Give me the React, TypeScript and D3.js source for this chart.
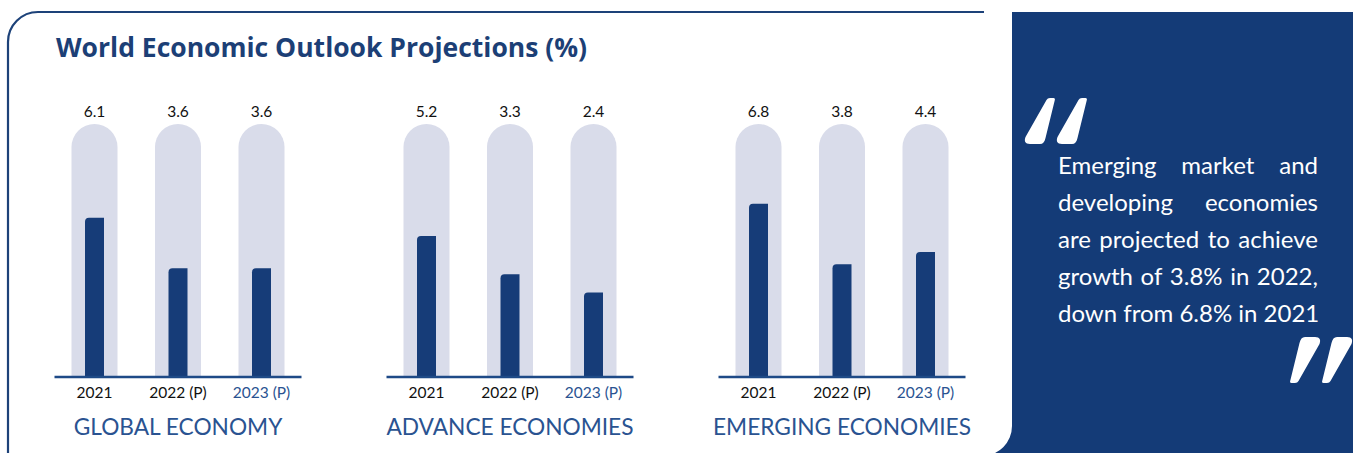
import React, { useEffect, useRef } from "react";
import * as d3 from "d3";

const titleText = "World Economic Outlook Projections (%)";
const groupNames = ["GLOBAL ECONOMY", "ADVANCE ECONOMIES", "EMERGING ECONOMIES"];
const yearLabels = ["2021", "2022 (P)", "2023 (P)"];
const globalEconomy = [6.1, 3.6, 3.6];
const advanceEconomies = [5.2, 3.3, 2.4];
const emergingEconomies = [6.8, 3.8, 4.4];
const quoteLines = [
  "Emerging market and",
  "developing economies",
  "are projected to achieve",
  "growth of 3.8% in 2022,",
  "down from 6.8% in 2021",
];

const W = 1353;
const H = 453;
const FONT = "Lato, 'Open Sans', sans-serif";
const TITLE_FONT = "'Open Sans', Lato, sans-serif";

export default function App() {
  const ref = useRef<SVGSVGElement>(null);

  useEffect(() => {
    const svg = d3.select(ref.current);
    svg.selectAll("*").remove();

    const navy = "#143b77";
    const barColor = "#163c78";
    const track = "#d9dcea";
    const midBlue = "#2a5391";
    const axisColor = "#1e4a87";

    // right panel
    svg.append("rect").attr("x", 982).attr("y", 12).attr("width", W - 982).attr("height", H - 12).attr("fill", navy);

    // card
    svg.append("path")
      .attr("d", "M8 460 L8 42 A30 30 0 0 1 38 12 L1012 12 L1012 426 A30 30 0 0 1 982 456 L8 456 Z")
      .attr("fill", "#ffffff");
    svg.append("path")
      .attr("d", "M8 460 L8 42 A30 30 0 0 1 38 12 L984 12")
      .attr("fill", "none").attr("stroke", "#1d4279").attr("stroke-width", 2.2);

    // title
    svg.append("text").attr("x", 56).attr("y", 57)
      .attr("font-family", TITLE_FONT).attr("font-weight", 700).attr("font-size", 26.5)
      .attr("fill", "#1c3f76").text(titleText);

    const series = [globalEconomy, advanceEconomies, emergingEconomies];
    const outer = d3.scalePoint<string>().domain(groupNames).range([178, 842]);
    const inner = d3.scalePoint<string>().domain(yearLabels).range([-83.5, 83.5]);
    const axisY = 377;
    const trackTop = 124;
    const y = d3.scaleLinear().domain([0, 8]).range([axisY - 36, axisY - 36 - 20.2 * 8]);
    const tw = 23;
    const bw = 9.5;

    groupNames.forEach((gName, gi) => {
      const gx = outer(gName)!;
      const g = svg.append("g");
      yearLabels.forEach((yl, i) => {
        const cx = gx + inner(yl)!;
        const v = series[gi][i];
        g.append("path")
          .attr("d", `M${cx - tw} ${axisY} L${cx - tw} ${trackTop + tw} A${tw} ${tw} 0 0 1 ${cx + tw} ${trackTop + tw} L${cx + tw} ${axisY} Z`)
          .attr("fill", track);
        const top = y(v);
        const r = 4;
        g.append("path")
          .attr("d", `M${cx - bw} ${axisY} L${cx - bw} ${top + r} Q${cx - bw} ${top} ${cx - bw + r} ${top} L${cx + bw} ${top} L${cx + bw} ${axisY} Z`)
          .attr("fill", barColor);
        g.append("text").attr("x", cx).attr("y", 117).attr("text-anchor", "middle")
          .attr("font-family", FONT).attr("font-size", 15.5).attr("fill", "#111")
          .text(v.toFixed(1));
        g.append("text").attr("x", cx).attr("y", 398).attr("text-anchor", "middle")
          .attr("font-family", FONT).attr("font-size", 15.5)
          .attr("fill", i === 2 ? midBlue : "#111")
          .text(yl);
      });
      g.append("line").attr("x1", gx - 123.5).attr("x2", gx + 123.5)
        .attr("y1", axisY).attr("y2", axisY)
        .attr("stroke", axisColor).attr("stroke-width", 2.5);
      g.append("text").attr("x", gx).attr("y", 435).attr("text-anchor", "middle")
        .attr("font-family", FONT).attr("font-size", 22.7).attr("fill", midBlue)
        .text(gName);
    });

    // quote text, justified
    const qx0 = 1058;
    const qx1 = 1318;
    quoteLines.forEach((line, li) => {
      const by = 173.5 + li * 37.1;
      const words = line.split(" ");
      const last = li === quoteLines.length - 1;
      if (last) {
        svg.append("text").attr("x", qx0).attr("y", by)
          .attr("font-family", FONT).attr("font-size", 24).attr("fill", "#fff").text(line);
        return;
      }
      const nodes = words.map((w) =>
        svg.append("text").attr("y", by)
          .attr("font-family", FONT).attr("font-size", 24).attr("fill", "#fff").text(w)
      );
      const widths = nodes.map((n) => (n.node() as SVGTextElement).getComputedTextLength());
      const total = d3.sum(widths);
      const gap = (qx1 - qx0 - total) / (words.length - 1);
      let x = qx0;
      nodes.forEach((n, i) => {
        n.attr("x", x);
        x += widths[i] + gap;
      });
    });

    // quote marks
    const mark = "M15 0 L25 0 C30 0 31 3 29.5 7 L8.5 44 Q7.5 46 5 46 L1.5 46 Q-0.5 46 0.3 43.5 L9.5 6 C10.5 2 12 0 15 0 Z";
    [1025, 1057].forEach((x) => {
      svg.append("path").attr("d", mark).attr("fill", "#fff")
        .attr("transform", `translate(${x + 30},${98 + 46}) rotate(180)`);
    });
    [1290, 1322].forEach((x) => {
      svg.append("path").attr("d", mark).attr("fill", "#fff")
        .attr("transform", `translate(${x},337)`);
    });
  }, []);

  return (
    <svg
      ref={ref}
      width={W}
      height={H}
      style={{ position: "absolute", left: 0, top: 0, display: "block" }}
    />
  );
}
